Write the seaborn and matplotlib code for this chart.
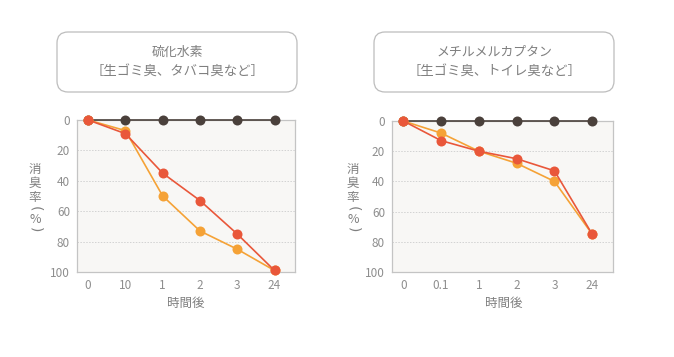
import numpy as np
import pandas as pd
import matplotlib
matplotlib.use("Agg")
import matplotlib.pyplot as plt
from matplotlib.patches import FancyBboxPatch
import seaborn as sns

# ---- data ----
left_title = "硫化水素"
left_sub = "［生ゴミ臭、タバコ臭など］"
right_title = "メチルメルカプタン"
right_sub = "［生ゴミ臭、トイレ臭など］"

left_xlabels = ["0", "10", "1", "2", "3", "24"]
right_xlabels = ["0", "0.1", "1", "2", "3", "24"]

left_dark = [0, 0, 0, 0, 0, 0]
left_orange = [0, 7, 50, 73, 85, 99]
left_red = [0, 9, 35, 53, 75, 99]

right_dark = [0, 0, 0, 0, 0, 0]
right_orange = [0, 8, 20, 28, 40, 75]
right_red = [0, 13, 20, 25, 33, 75]

yticks = [0, 20, 40, 60, 80, 100]
ylabel_main = ["消", "臭", "率"]
ylabel_unit = "%"
xlabel = "時間後"

# ---- style ----
sns.set_theme(style="white")
plt.rcParams['font.family'] = ['Noto Sans CJK JP', 'DejaVu Sans']

DARK = "#4a403b"
ORANGE = "#f5a236"
RED = "#e9573a"
TXT = "#7f7f7f"
TICK = "#8e8e8e"
SPINE = "#c4c4c4"
BG = "#f8f7f5"

W, H = 6.74, 3.57
fig = plt.figure(figsize=(W, H), dpi=100)


def px_ax(l, t, r, b):
    return fig.add_axes([l / 674, 1 - b / 357, (r - l) / 674, (b - t) / 357])


def draw_panel(ax, xlabels, dark, orange, red):
    x = np.arange(len(xlabels))
    ax.set_facecolor(BG)
    for vals, col in [(dark, DARK), (orange, ORANGE), (red, RED)]:
        sns.lineplot(x=x, y=vals, color=col, marker='o', markersize=7.2,
                     markeredgewidth=0, linewidth=1.2, ax=ax, clip_on=False,
                     zorder=3)
    ax.set_xlim(-0.3, 5.55)
    ax.set_ylim(100, 0)
    ax.set_yticks(yticks)
    ax.set_yticklabels([str(v) for v in yticks])
    ax.set_xticks(x)
    ax.set_xticklabels(xlabels)
    ax.tick_params(axis='y', length=0, labelsize=8.5, labelcolor=TICK, pad=5)
    ax.tick_params(axis='x', direction='in', length=3, width=0.8,
                   color=SPINE, labelsize=8.5, labelcolor=TICK, pad=5)
    ax.xaxis.get_major_ticks()[0].tick1line.set_visible(False)
    for v in yticks[1:-1]:
        ax.axhline(v, color="#d2d2d2", lw=0.7, ls=(0, (1.5, 1.5)), zorder=1)
    for s in ax.spines.values():
        s.set_color(SPINE)
        s.set_linewidth(0.9)
    ax.set_xlabel("")
    ax.set_ylabel("")


axL = px_ax(77, 120, 295, 272)
draw_panel(axL, left_xlabels, left_dark, left_orange, left_red)
axR = px_ax(392, 121, 613, 272)
draw_panel(axR, right_xlabels, right_dark, right_orange, right_red)


def title_box(cx, title, sub):
    box = FancyBboxPatch(((cx - 120) / 100, (357 - 92) / 100), 2.40, 0.60,
                         boxstyle="round,pad=0,rounding_size=0.11",
                         transform=fig.dpi_scale_trans, facecolor="white",
                         edgecolor="#bdbdbd", linewidth=0.9)
    fig.patches.append(box)
    fig.text(cx / 674, 1 - 52 / 357, title, ha='center', va='center',
             fontsize=9.3, color=TXT)
    fig.text(cx / 674, 1 - 71 / 357, sub, ha='center', va='center',
             fontsize=9.6, color=TXT)


title_box(177, left_title, left_sub)
title_box(494, right_title, right_sub)


def ylabel_stack(xc):
    ys = [169, 183, 197]
    for ch, yy in zip(ylabel_main, ys):
        fig.text(xc / 674, 1 - yy / 357, ch, ha='center', va='center',
                 fontsize=9, color=TXT)
    fig.text(xc / 674, 1 - 209 / 357, "(", ha='center', va='center',
             fontsize=10, color=TXT, rotation=-90, family='DejaVu Sans')
    fig.text(xc / 674, 1 - 219 / 357, ylabel_unit, ha='center', va='center',
             fontsize=9, color=TXT)
    fig.text(xc / 674, 1 - 230 / 357, ")", ha='center', va='center',
             fontsize=10, color=TXT, rotation=-90, family='DejaVu Sans')


ylabel_stack(35)
ylabel_stack(353)

fig.text(186 / 674, 1 - 303 / 357, xlabel, ha='center', va='center',
         fontsize=9, color=TXT)
fig.text(504 / 674, 1 - 303 / 357, xlabel, ha='center', va='center',
         fontsize=9, color=TXT)

fig.savefig("out.png", dpi=100, facecolor="white")
